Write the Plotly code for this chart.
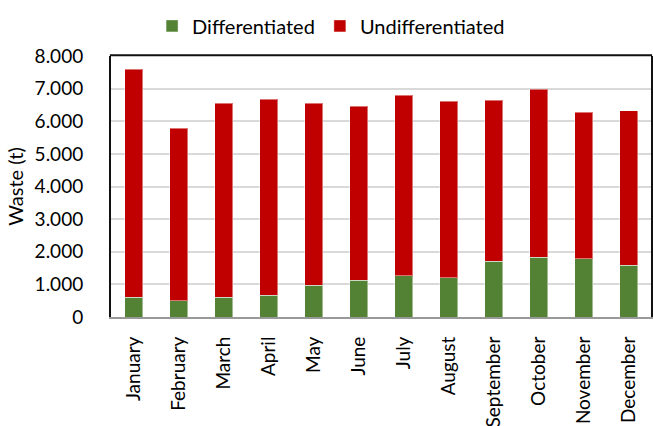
import plotly.graph_objects as go

months = ["January", "February", "March", "April", "May", "June", "July",
          "August", "September", "October", "November", "December"]
differentiated = [600, 500, 600, 670, 980, 1130, 1270, 1210, 1710, 1830, 1790, 1590]
totals = [7590, 5780, 6550, 6680, 6550, 6460, 6790, 6610, 6640, 6980, 6280, 6320]
undifferentiated = [t - d for t, d in zip(totals, differentiated)]
y_ticks = [0, 1000, 2000, 3000, 4000, 5000, 6000, 7000, 8000]

FONT = "Lato"

fig = go.Figure()
fig.add_trace(go.Bar(x=months, y=differentiated, name="Differentiated",
                     marker=dict(color="#548235", line=dict(color="rgba(255,255,255,0.45)", width=1))))
fig.add_trace(go.Bar(x=months, y=undifferentiated, name="Undifferentiated",
                     marker=dict(color="#C00000", line=dict(color="rgba(255,255,255,0.45)", width=1))))

fig.update_layout(
    width=653, height=426,
    barmode="stack", bargap=0.6,
    separators=",.",
    paper_bgcolor="white", plot_bgcolor="white",
    margin=dict(l=111, r=2, t=56, b=109, autoexpand=False),
    font=dict(family=FONT, size=19, color="#000000"),
    showlegend=True,
    legend=dict(orientation="h", traceorder="normal", xref="container", x=0.507, xanchor="center",
                yref="container", y=0.985, yanchor="top",
                font=dict(family=FONT, size=20, color="#000000"),
                itemwidth=30, tracegroupgap=0),
    xaxis=dict(tickangle=-90, showgrid=False, showline=True, linecolor="#999999", linewidth=2,
               ticks="", automargin=False, ticklabelstandoff=10,
               tickfont=dict(family=FONT, size=19)),
    yaxis=dict(range=[0, 8000], tickvals=y_ticks, tickformat=",d",
               showgrid=True, gridcolor="#d9d9d9", gridwidth=1.5,
               zeroline=False, showline=True, linecolor="#111111", linewidth=2, mirror=True,
               ticks="", automargin=False, ticklabelstandoff=22,
               tickfont=dict(family=FONT, size=19),
               title=dict(text="Waste (t)", font=dict(family=FONT, size=20), standoff=6)),
)
fig.add_shape(type="line", xref="paper", yref="paper", x0=-0.002, x1=1.002, y0=1.003, y1=1.003,
              line=dict(color="#111111", width=2), layer="above")

fig.write_html("out.html", config={"displayModeBar": False},
               post_script="document.body.style.margin='0';document.body.style.padding='0';")
